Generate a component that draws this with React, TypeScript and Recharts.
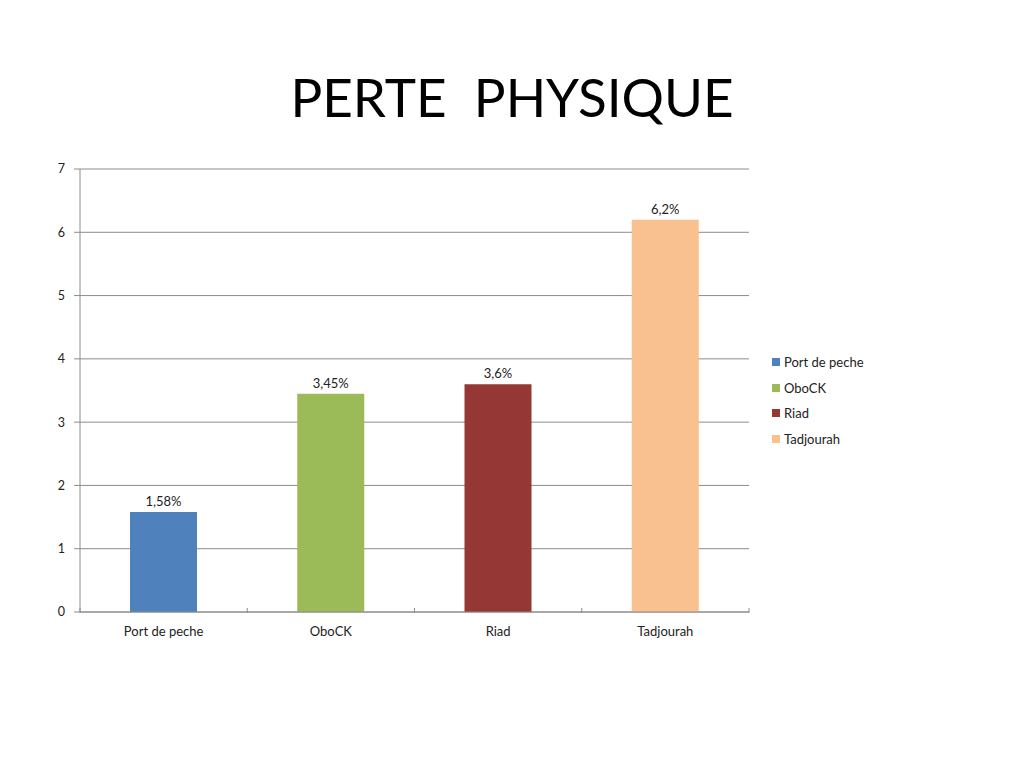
import React from "react";
import { BarChart, Bar, XAxis, YAxis, CartesianGrid, Cell, LabelList } from "recharts";

const categories = ["Port de peche", "OboCK", "Riad", "Tadjourah"];
const values = [1.58, 3.45, 3.6, 6.2];
const valueLabels = ["1,58%", "3,45%", "3,6%", "6,2%"];
const colors = ["#4F81BD", "#9BBB59", "#953735", "#F9C090"];
const yTicks = [0, 1, 2, 3, 4, 5, 6, 7];

const FONT = "Lato, 'Open Sans', sans-serif";
const AXIS = "#8c8c8c";

// category label plus the small marks on the category borders
function CategoryTick(props: any) {
  const { x, y, payload, index, visibleTicksCount, width } = props;
  const band = width / visibleTicksCount;
  const top = y - 12;
  return (
    <g>
      <line x1={x - band / 2} x2={x - band / 2} y1={top} y2={top + 5} stroke={AXIS} />
      {index === visibleTicksCount - 1 && (
        <line x1={x + band / 2} x2={x + band / 2} y1={top} y2={top + 5} stroke={AXIS} />
      )}
      <text x={x} y={y} dy={16} textAnchor="middle" fontSize={13} fill="#222" fontFamily={FONT}>
        {payload.value}
      </text>
    </g>
  );
}

export default function App() {
  const data = categories.map((name, i) => ({
    name,
    value: values[i],
    label: valueLabels[i],
  }));

  return (
    <div style={{ position: "absolute", left: 0, top: 0, width: 1024, height: 768, background: "#fff" }}>
      <div
        style={{
          position: "absolute",
          left: 0,
          width: 1024,
          top: 62,
          textAlign: "center",
          fontFamily: FONT,
          fontSize: 53,
          color: "#000",
          lineHeight: "70px",
          whiteSpace: "pre",
        }}
      >
        PERTE  PHYSIQUE
      </div>
      <BarChart
        width={1024}
        height={768}
        data={data}
        margin={{ top: 169, right: 275, bottom: 126, left: 30 }}
        style={{ position: "absolute", left: 0, top: 0 }}
      >
        <CartesianGrid horizontal vertical={false} stroke={AXIS} />
        <XAxis
          dataKey="name"
          height={30}
          stroke={AXIS}
          tickLine={false}
          tick={<CategoryTick />}
          interval={0}
        />
        <YAxis
          width={50}
          domain={[0, 7]}
          ticks={yTicks}
          interval={0}
          stroke={AXIS}
          tickSize={6}
          tickMargin={9}
          tick={{ fontSize: 12.5, fill: "#222", fontFamily: FONT }}
        />
        <Bar dataKey="value" barSize={67} isAnimationActive={false}>
          {data.map((d, i) => (
            <Cell key={d.name} fill={colors[i]} />
          ))}
          <LabelList dataKey="label" position="top" offset={6} style={{ fontSize: 13, fill: "#222", fontFamily: FONT }} />
        </Bar>
      </BarChart>
      <div style={{ position: "absolute", left: 772, top: 349, fontFamily: FONT, fontSize: 13, color: "#222" }}>
        {categories.map((name, i) => (
          <div key={name} style={{ display: "flex", alignItems: "center", height: 25.7 }}>
            <span style={{ width: 8, height: 8, background: colors[i], marginRight: 4, display: "inline-block" }} />
            <span>{name}</span>
          </div>
        ))}
      </div>
    </div>
  );
}
